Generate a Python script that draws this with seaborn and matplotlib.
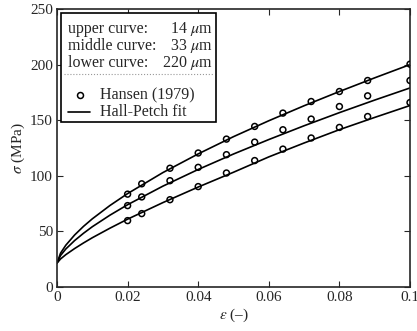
import matplotlib
matplotlib.use("Agg")
import matplotlib.pyplot as plt
import seaborn as sns
import pandas as pd
from matplotlib.patches import Rectangle

# ---- data ----
strain_pts = [0.02, 0.024, 0.032, 0.04, 0.048, 0.056, 0.064, 0.072, 0.08, 0.088, 0.1]
upper_pts = [83.5, 92.8, 106.8, 120.5, 133.0, 144.4, 156.4, 166.8, 175.8, 185.7, 200.4]
middle_pts = [73.2, 81.0, 95.6, 107.6, 119.0, 130.3, 141.4, 151.0, 162.3, 171.9, 185.7]
lower_pts = [59.7, 66.0, 78.5, 90.3, 102.5, 113.7, 124.0, 134.0, 143.5, 153.3, 165.9]

strain_fit = [0, 0.001, 0.0025, 0.005, 0.0075, 0.01, 0.015, 0.02, 0.03, 0.04,
              0.05, 0.06, 0.07, 0.08, 0.09, 0.1]
upper_fit = [21.5, 30.4, 37.6, 46.8, 54.5, 61.3, 73.3, 84.0, 102.9, 119.7,
             135.2, 149.5, 163.0, 175.8, 188.1, 200.0]
middle_fit = [21.5, 28.3, 34.2, 41.8, 48.3, 54.2, 64.6, 74.0, 90.7, 105.7,
              119.6, 132.6, 145.0, 156.8, 168.1, 179.0]
lower_fit = [21.5, 25.2, 29.1, 34.6, 39.6, 44.3, 52.9, 61.0, 75.9, 89.9,
             103.2, 117.0, 129.5, 141.5, 152.5, 163.2]

curve_names = ["upper", "middle", "lower"]
grain_labels = ["14", "33", "220"]
xticks = [0, 0.02, 0.04, 0.06, 0.08, 0.1]
xtick_labels = ["0", "0.02", "0.04", "0.06", "0.08", "0.1"]
yticks = [0, 50, 100, 150, 200, 250]

pts = pd.DataFrame({
    "strain": strain_pts * 3,
    "stress": upper_pts + middle_pts + lower_pts,
    "curve": sum([[c] * len(strain_pts) for c in curve_names], []),
})
fit = pd.DataFrame({
    "strain": strain_fit * 3,
    "stress": upper_fit + middle_fit + lower_fit,
    "curve": sum([[c] * len(strain_fit) for c in curve_names], []),
})

sns.set_style("ticks")
plt.rcParams["font.family"] = ["Liberation Serif", "DejaVu Serif"]
plt.rcParams["mathtext.fontset"] = "stix"
plt.rcParams["font.size"] = 11

fig = plt.figure(figsize=(4.17, 3.31), dpi=100)
ax = fig.add_axes([57 / 417, 1 - 287 / 331, 353 / 417, 278 / 331])

sns.lineplot(data=fit, x="strain", y="stress", units="curve", estimator=None,
             sort=False, color="black", lw=1.2, ax=ax)
sns.scatterplot(data=pts, x="strain", y="stress", marker="o", s=18,
                fc="none", ec="black", linewidth=1.1, ax=ax, zorder=3)

ax.set_xlim(0, 0.1)
ax.set_ylim(0, 250)
ax.set_xticks(xticks)
ax.set_xticklabels(xtick_labels)
ax.set_yticks(yticks)
ax.tick_params(direction="in", top=True, right=True, length=4, width=0.8,
               labelsize=11, pad=3)
for s in ax.spines.values():
    s.set_linewidth(1.2)
    s.set_visible(True)
ax.set_xlabel(r"$\varepsilon$ (–)", fontsize=11, labelpad=2)
ax.set_ylabel(r"$\sigma$ (MPa)", fontsize=11, labelpad=2)

# ---- legend box ----
T = ax.transAxes
ax.add_patch(Rectangle((0.0113, 0.5935), 0.44, 0.391, transform=T, fill=True,
                       fc="white", ec="black", lw=1.2, zorder=5))
ys = [0.927, 0.868, 0.807]
names = ["upper curve:", "middle curve:", "lower curve:"]
for y, n, g in zip(ys, names, grain_labels):
    ax.text(0.0303, y, n, transform=T, ha="left", va="center", fontsize=11.5, zorder=6)
    ax.text(0.4419, y, g + r" $\mu$m", transform=T, ha="right", va="center",
            fontsize=11.5, zorder=6)
ax.plot([0.02, 0.445], [0.766, 0.766], transform=T, color="#999999", ls=":",
        lw=0.8, zorder=6)
ax.plot([0.0652], [0.691], transform=T, marker="o", ms=4.3, mfc="none",
        mec="black", mew=1.1, ls="none", zorder=6)
ax.text(0.1218, 0.691, "Hansen (1979)", transform=T, ha="left", va="center",
        fontsize=11.5, zorder=6)
ax.plot([0.0312, 0.0935], [0.631, 0.631], transform=T, color="black", lw=1.2,
        zorder=6)
ax.text(0.1218, 0.631, "Hall-Petch fit", transform=T, ha="left", va="center",
        fontsize=11.5, zorder=6)

fig.savefig("out.png", dpi=100)
